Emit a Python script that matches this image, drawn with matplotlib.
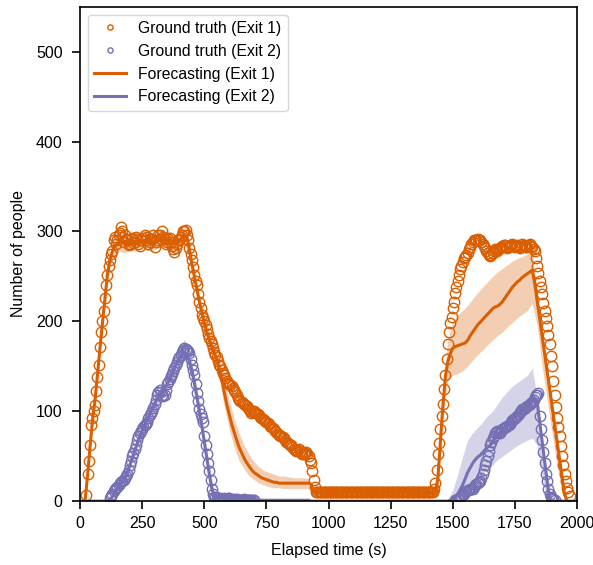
import numpy as np
import matplotlib
matplotlib.use("Agg")
import matplotlib.pyplot as plt

nan = np.nan

# time axes (s)
t_gt = np.arange(0, 2001, 5)
t = np.arange(0, 2001, 10)
t_band = np.arange(0, 2001, 20)

# ground truth, exit 1 (5 s steps)
gt1 = [nan, nan, nan, nan, nan, 7, 30, 45, 62, 85, 92, 100, 107, 122, 138, 152, 172, 188, 200, 212,
       226, 240, 252, 262, 268, 275, 278, 290, 294, 286, 290, 296, 298, 305, 300, 288, 296, 292, 290, 285,
       286, 292, 293, 287, 288, 294, 292, 286, 284, 290, 290, 293, 296, 290, 294, 286, 288, 292, 292, 296,
       283, 288, 290, 296, 296, 292, 300, 294, 292, 286, 288, 292, 293, 288, 284, 280, 277, 282, 286, 290,
       291, 294, 296, 300, 300, 302, 296, 290, 282, 275, 268, 260, 252, 245, 240, 230, 222, 215, 207, 204,
       200, 196, 192, 186, 181, 178, 175, 170, 166, 163, 160, 156, 152, 150, 146, 143, 140, 137, 134, 132,
       130, 129, 128, 126, 124, 121, 118, 115, 113, 111, 110, 109, 108, 107, 106, 104, 102, 100, 98, 99,
       100, 99, 98, 97, 96, 94, 92, 91, 90, 89, 88, 87, 86, 84, 82, 81, 80, 78, 77, 75,
       74, 73, 72, 71, 70, 68, 66, 65, 64, 63, 62, 60, 58, 57, 56, 57, 58, 56, 54, 53,
       53, 54, 55, 52, 50, 46, 42, 34, 24, 16, 10, 10, 10, 10, 10, 10, 10, 10, 10, 10,
       10, 10, 10, 10, 10, 10, 10, 10, 10, 10, 10, 10, 10, 10, 10, 10, 10, 10, 10, 10,
       10, 10, 10, 10, 10, 10, 10, 10, 10, 10, 10, 10, 10, 10, 10, 10, 10, 10, 10, 10,
       10, 10, 10, 10, 10, 10, 10, 10, 10, 10, 10, 10, 10, 10, 10, 10, 10, 10, 10, 10,
       10, 10, 10, 10, 10, 10, 10, 10, 10, 10, 10, 10, 10, 10, 10, 10, 10, 10, 10, 10,
       10, 10, 10, 10, 10, 14, 20, 35, 52, 65, 80, 95, 108, 125, 140, 158, 175, 188, 198, 205,
       215, 222, 232, 238, 245, 252, 258, 262, 266, 270, 272, 274, 276, 280, 283, 286, 288, 290, 290, 291,
       292, 291, 290, 288, 286, 284, 282, 278, 276, 274, 273, 274, 276, 278, 280, 279, 278, 280, 282, 283,
       284, 285, 285, 283, 282, 283, 284, 285, 286, 284, 283, 284, 285, 283, 282, 284, 286, 285, 284, 283,
       283, 285, 286, 284, 283, 281, 278, 270, 262, 254, 245, 238, 230, 221, 212, 204, 195, 185, 175, 162,
       150, 134, 118, 105, 92, 82, 72, 61, 50, 40, 30, 22, 15, 10, 6, nan, nan, nan, nan, nan,
       nan]

# ground truth, exit 2 (5 s steps)
gt2 = [nan, nan, nan, nan, nan, nan, nan, nan, nan, nan, nan, nan, nan, nan, nan, nan, nan, nan, nan, nan,
       nan, nan, nan, nan, 4, 6, 8, 11, 14, 15, 16, 18, 20, 21, 22, 24, 26, 28, 30, 35,
       40, 45, 50, 54, 58, 63, 68, 72, 76, 78, 80, 83, 85, 86, 88, 92, 96, 98, 100, 104,
       108, 113, 118, 121, 124, 121, 118, 117, 118, 124, 130, 133, 136, 139, 142, 145, 148, 152, 155, 158,
       160, 163, 166, 168, 170, 169, 168, 167, 165, 158, 152, 146, 140, 130, 120, 111, 102, 97, 92, 88,
       72, 62, 52, 42, 34, 24, 14, 8, 5, 4, 3, 3, 4, 3, 2, 2, 3, 2, 2, 3,
       3, 2, 2, 1, 1, 2, 2, 1, 1, 1, 1, 1, 2, 1, 1, 1, 1, 1, 1, 1,
       1, nan, nan, nan, nan, nan, nan, nan, nan, nan, nan, nan, nan, nan, nan, nan, nan, nan, nan, nan,
       nan, nan, nan, nan, nan, nan, nan, nan, nan, nan, nan, nan, nan, nan, nan, nan, nan, nan, nan, nan,
       nan, nan, nan, nan, nan, nan, nan, nan, nan, nan, nan, nan, nan, nan, nan, nan, nan, nan, nan, nan,
       nan, nan, nan, nan, nan, nan, nan, nan, nan, nan, nan, nan, nan, nan, nan, nan, nan, nan, nan, nan,
       nan, nan, nan, nan, nan, nan, nan, nan, nan, nan, nan, nan, nan, nan, nan, nan, nan, nan, nan, nan,
       nan, nan, nan, nan, nan, nan, nan, nan, nan, nan, nan, nan, nan, nan, nan, nan, nan, nan, nan, nan,
       nan, nan, nan, nan, nan, nan, nan, nan, nan, nan, nan, nan, nan, nan, nan, nan, nan, nan, nan, nan,
       nan, nan, nan, nan, nan, nan, nan, nan, nan, nan, nan, nan, nan, nan, nan, nan, nan, nan, nan, nan,
       nan, nan, 1, 1, 2, 3, 5, 6, 7, 8, 10, 11, 12, 12, 13, 14, 14, 16, 18, 19,
       20, 21, 22, 26, 30, 35, 40, 45, 50, 56, 62, 66, 70, 73, 76, 77, 78, 77, 76, 78,
       80, 81, 82, 83, 84, 85, 86, 88, 90, 91, 92, 94, 95, 97, 99, 100, 102, 103, 104, 105,
       106, 107, 108, 109, 110, 113, 116, 118, 118, 120, 95, 80, 68, 55, 42, 30, 22, 14, 8, 5,
       3, 2, 1, nan, nan, nan, nan, nan, nan, nan, nan, nan, nan, nan, nan, nan, nan, nan, nan, nan,
       nan]

# forecasting, exit 1 (mean, 10 s steps)
fc1 = [nan, nan, 0, 28, 60, 90, 112, 140, 170, 198,
       225, 252, 268, 278, 284, 286, 288, 290, 288, 287,
       289, 290, 289, 288, 290, 289, 290, 292, 290, 289,
       288, 289, 291, 293, 291, 289, 290, 288, 286, 288,
       290, 293, 295, 294, 280, 264, 250, 236, 222, 210,
       198, 188, 180, 172, 165, 158, 148, 136, 122, 108,
       97, 86, 77, 68, 60, 54, 48, 43, 39, 35,
       32, 30, 28, 26, 25, 24, 23, 22, 21, 21,
       20, 20, 20, 20, 20, 20, 20, 20, 20, 20,
       20, 20, 20, 19, 10, 10, 10, 10, 10, 10,
       10, 10, 10, 10, 10, 10, 10, 10, 10, 10,
       10, 10, 10, 10, 10, 10, 10, 10, 10, 10,
       10, 10, 10, 10, 10, 10, 10, 10, 10, 10,
       10, 10, 10, 10, 10, 10, 10, 10, 10, 10,
       10, 10, 10, 10, 25, 65, 105, 138, 155, 164,
       170, 172, 173, 174, 175, 176, 179, 184, 188, 192,
       196, 199, 202, 205, 208, 211, 214, 216, 217, 219,
       222, 226, 230, 234, 238, 241, 244, 246, 249, 251,
       253, 255, 257, 242, 222, 203, 183, 164, 144, 125,
       105, 86, 66, 47, 27, 8, 0, nan, nan, nan,
       nan]

# forecasting, exit 2 (mean, 10 s steps)
fc2 = [0, 0, 0, 0, 0, 0, 0, 0, 0, 0,
       0, 0, 2, 5, 10, 14, 18, 22, 26, 32,
       40, 48, 56, 64, 72, 78, 84, 90, 96, 102,
       108, 114, 118, 121, 125, 130, 136, 142, 148, 154,
       159, 163, 165, 162, 156, 146, 132, 116, 100, 84,
       66, 48, 30, 14, 6, 5, 5, 4, 4, 3,
       3, 2, 2, 2, 2, 2, 2, 2, 2, 2,
       2, 1, 1, 1, 1, 1, 1, 1, 1, 1,
       1, 1, 1, 1, 1, 1, 1, 1, 1, 1,
       1, 1, 1, 0, 0, 0, 0, 0, 0, 0,
       0, 0, 0, 0, 0, 0, 0, 0, 0, 0,
       0, 0, 0, 0, 0, 0, 0, 0, 0, 0,
       0, 0, 0, 0, 0, 0, 0, 0, 0, 0,
       0, 0, 0, 0, 0, 0, 0, 0, 0, 0,
       0, 0, 0, 0, 0, 0, 0, 0, 0, 1,
       2, 4, 8, 13, 18, 25, 32, 37, 42, 46,
       49, 51, 54, 57, 60, 62, 66, 70, 73, 76,
       79, 82, 85, 88, 91, 94, 97, 99, 102, 105,
       107, 109, 111, 113, 110, 88, 66, 44, 22, 2,
       0, 0, 0, 0, 0, 0, 0, 0, 0, 0,
       0]

# uncertainty bands (20 s steps)
lo1 = [nan, 0, 55, 105, 162, 218, 262, 276, 278, 276,
       280, 278, 282, 280, 278, 280, 282, 282, 280, 276,
       280, 286, 272, 242, 214, 190, 172, 156, 136, 106,
       80, 60, 45, 36, 28, 24, 20, 18, 16, 15,
       15, 14, 14, 14, 14, 14, 14, 7, 7, 7,
       7, 7, 7, 7, 7, 7, 7, 7, 7, 7,
       7, 7, 7, 7, 7, 7, 7, 7, 7, 7,
       7, 7, 8, 90, 135, 140, 142, 145, 150, 157,
       163, 168, 174, 179, 184, 188, 194, 199, 204, 208,
       212, 220, 195, 150, 112, 75, 40, 10, 0, nan,
       nan]
hi1 = [nan, 0, 65, 118, 178, 232, 275, 292, 298, 300,
       298, 300, 298, 302, 300, 296, 300, 302, 300, 296,
       300, 308, 290, 258, 230, 206, 188, 172, 158, 138,
       112, 92, 76, 62, 52, 44, 38, 34, 32, 30,
       28, 28, 27, 26, 26, 26, 25, 14, 13, 13,
       13, 13, 13, 13, 13, 13, 13, 13, 13, 13,
       13, 13, 13, 13, 13, 13, 13, 13, 13, 13,
       13, 13, 30, 125, 180, 200, 208, 212, 218, 225,
       232, 238, 244, 250, 255, 259, 263, 267, 270, 272,
       275, 280, 230, 188, 150, 110, 70, 30, 3, nan,
       nan]
lo2 = [0, 0, 0, 0, 0, 0, 0, 6, 14, 20,
       34, 50, 66, 78, 90, 100, 110, 118, 128, 140,
       150, 156, 146, 122, 90, 56, 22, 2, 2, 1,
       1, 0, 0, 0, 0, 0, 0, 0, 0, 0,
       0, 0, 0, 0, 0, 0, 0, 0, 0, 0,
       0, 0, 0, 0, 0, 0, 0, 0, 0, 0,
       0, 0, 0, 0, 0, 0, 0, 0, 0, 0,
       0, 0, 0, 0, 0, 0, 3, 8, 14, 20,
       26, 30, 35, 40, 46, 50, 54, 58, 62, 65,
       68, 70, 62, 28, 0, 0, 0, 0, 0, 0,
       0]
hi2 = [0, 0, 0, 0, 0, 0, 4, 14, 24, 32,
       46, 62, 80, 92, 104, 116, 126, 134, 144, 156,
       168, 180, 166, 142, 110, 76, 40, 12, 9, 7,
       6, 5, 5, 4, 4, 3, 2, 2, 2, 2,
       2, 2, 2, 2, 2, 1, 0, 0, 0, 0,
       0, 0, 0, 0, 0, 0, 0, 0, 0, 0,
       0, 0, 0, 0, 0, 0, 0, 0, 0, 0,
       0, 0, 0, 0, 2, 12, 30, 50, 68, 76,
       82, 88, 95, 100, 108, 116, 122, 128, 132, 136,
       140, 148, 115, 66, 22, 2, 0, 0, 0, 0,
       0]

c1 = "#d95f02"
c2 = "#7570b3"

plt.rcParams["font.family"] = ["Liberation Sans", "DejaVu Sans"]

fig = plt.figure(figsize=(5.93, 5.65), dpi=100)
ax = fig.add_axes([0.135, 0.113, 0.838, 0.875])

ax.fill_between(t_band, lo1, hi1, color=c1, alpha=0.3, lw=0)
ax.fill_between(t_band, lo2, hi2, color=c2, alpha=0.3, lw=0)

ax.plot(t_gt, gt1, "o", mfc="none", mec=c1, ms=7.5, mew=1.0, label="Ground truth (Exit 1)")
ax.plot(t_gt, gt2, "o", mfc="none", mec=c2, ms=7.5, mew=1.0, label="Ground truth (Exit 2)")
ax.plot(t, fc1, "-", color=c1, lw=2.2, label="Forecasting (Exit 1)")
ax.plot(t, fc2, "-", color=c2, lw=2.2, label="Forecasting (Exit 2)")

ax.set_xlim(0, 2000)
ax.set_ylim(0, 550)
ax.set_xticks([0, 250, 500, 750, 1000, 1250, 1500, 1750, 2000])
ax.set_yticks([0, 100, 200, 300, 400, 500])
ax.tick_params(axis="x", direction="out", length=5.5, width=1.2, pad=5, labelsize=11.5)
ax.tick_params(axis="y", direction="out", length=6, width=1.2, pad=6.5, labelsize=11.5)
for s in ax.spines.values():
    s.set_linewidth(1.2)

ax.set_xlabel("Elapsed time (s)", fontsize=11.5, labelpad=9)
ax.set_ylabel("Number of people", fontsize=11.5, labelpad=7.5)

ax.legend(loc="upper left", markerscale=0.5, fontsize=11.3)

fig.savefig("out.png", dpi=100)
